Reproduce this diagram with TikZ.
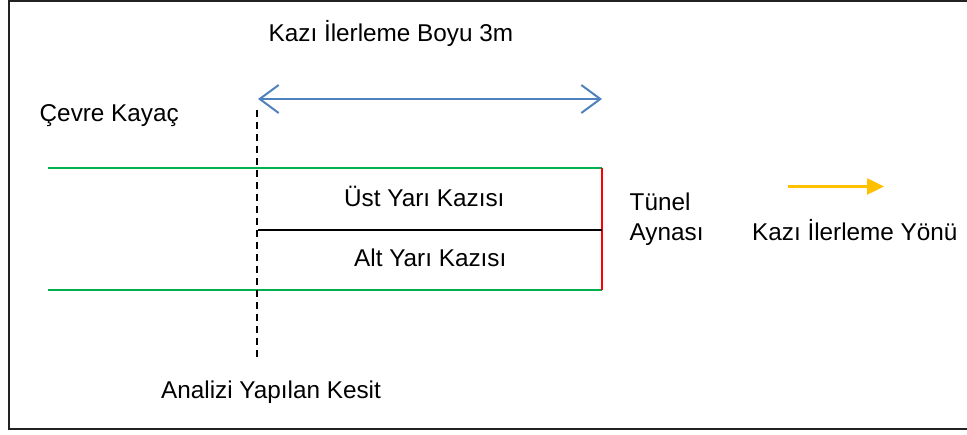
\documentclass[tikz,border=0pt]{standalone}
\usepackage{fontspec}
\setmainfont{Liberation Sans}
\usetikzlibrary{arrows.meta}
\definecolor{gline}{HTML}{00B050}
\definecolor{bline}{HTML}{4F81BD}
\definecolor{oline}{HTML}{FFC000}
\definecolor{frame}{HTML}{222222}
\begin{document}
\begin{tikzpicture}[x=1pt,y=-1pt,
  lbl/.style={inner sep=0pt,anchor=base west,font=\fontsize{24.3}{29.5}\selectfont},
  greenl/.style={draw=gline,line width=2pt},
  redl/.style={draw=red,line width=1.6pt},
  blackl/.style={draw=black,line width=1.5pt},
  dashl/.style={draw=black,line width=1.8pt,dash pattern=on 7pt off 5pt},
  dimarrow/.style={draw=bline,line width=2pt,{Straight Barb[length=19pt,width=28pt]}-{Straight Barb[length=19pt,width=28pt]}},
  dirarrow/.style={draw=oline,line width=2.5pt,-{Triangle[length=17pt,width=16pt]}}]
\useasboundingbox (0,0) rectangle (967,435);
\draw[frame,line width=2pt] (9,1) rectangle (970,429);
% coordinates
\coordinate (tl) at (48,168);
\coordinate (tr) at (602,168);
\coordinate (bl) at (48,290);
\coordinate (br) at (602,290);
\coordinate (ml) at (258,230);
\coordinate (mr) at (602,230);
\coordinate (dtop) at (257,110);
\coordinate (dbot) at (257,359);
\coordinate (al) at (258,99);
\coordinate (ar) at (602,99);
\coordinate (ol) at (788,186.5);
\coordinate (or) at (884,186.5);
% lines
\draw[greenl] (tl) -- (tr);
\draw[greenl] (bl) -- (br);
\draw[redl] (tr) -- (br);
\draw[blackl] (ml) -- (mr);
\draw[dashl] (dtop) -- (dbot);
\draw[dimarrow] (al) -- (ar);
\draw[dirarrow] (ol) -- (or);
% labels
\node[lbl] (boy) at (268.5,42) {Kazı İlerleme Boyu 3m};
\node[lbl] (cevre) at (39.5,121.5) {Çevre Kayaç};
\node[lbl] (ust) at (344,206.5) {Üst Yarı Kazısı};
\node[lbl] (alt) at (354,266.5) {Alt Yarı Kazısı};
\node[lbl] (tunel) at (629.5,211) {Tünel};
\node[lbl] (ayna) at (629.5,240.5) {Aynası};
\node[lbl] (yon) at (752,240.5) {Kazı İlerleme Yönü};
\node[lbl] (kesit) at (161,399) {Analizi Yapılan Kesit};
\end{tikzpicture}
\end{document}
